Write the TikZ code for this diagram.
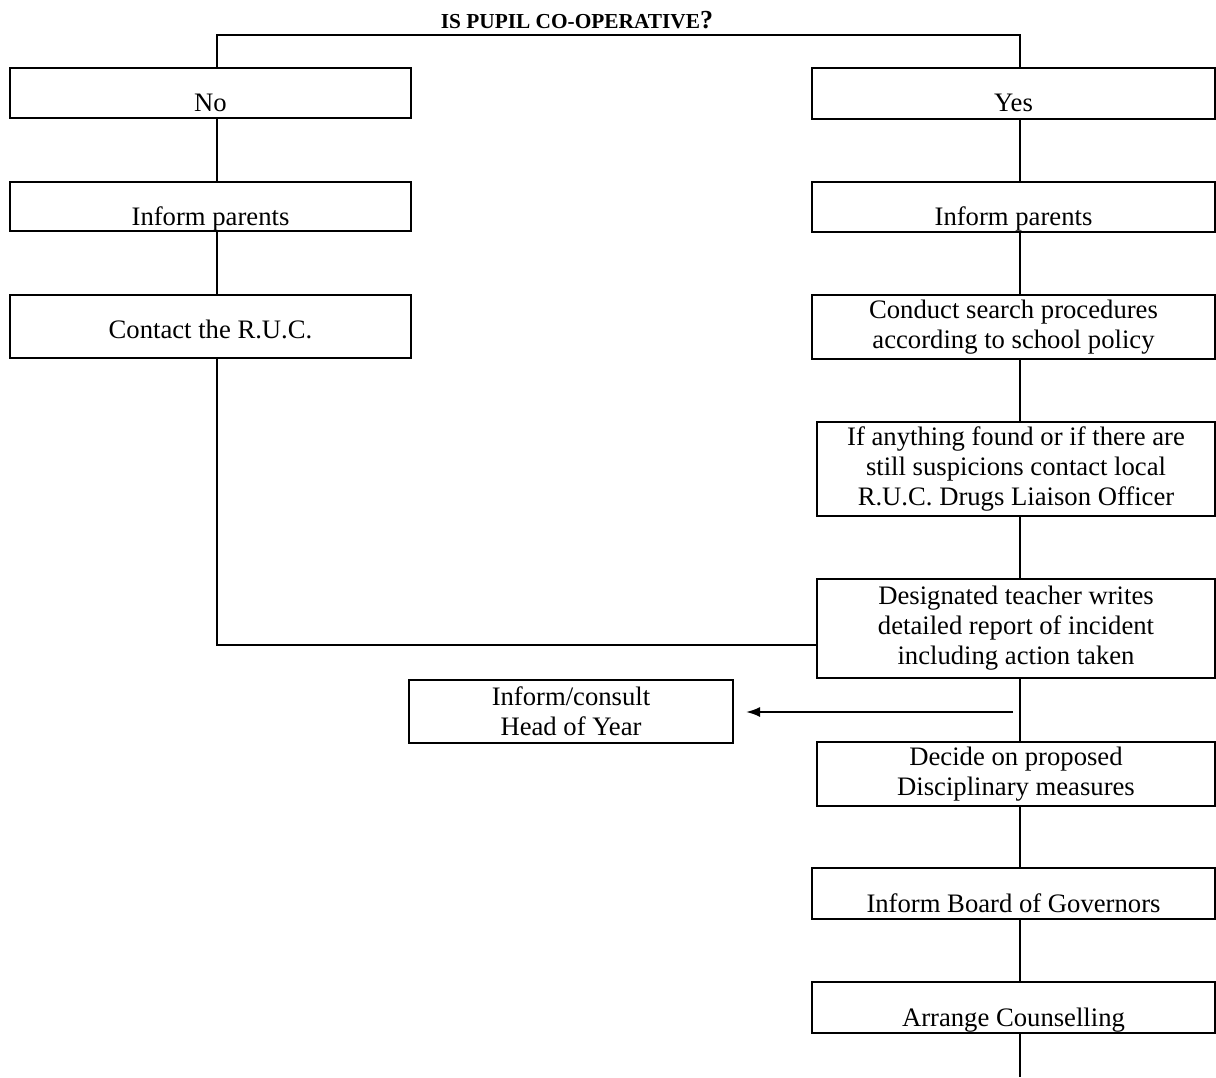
\documentclass[tikz,border=0pt]{standalone}
\usepackage{fontspec}
\setmainfont{Liberation Serif}
\usetikzlibrary{arrows.meta}

\tikzset{
  box/.style={draw, line width=1.5pt, inner sep=0pt, align=center,
    font=\fontsize{20}{22.5}\selectfont},
  lowtxt/.style={text height=27.75pt, text depth=0pt},
  link/.style={line width=1.5pt},
}

\begin{document}
\begin{tikzpicture}[x=0.75pt,y=0.75pt,yscale=-1,xscale=1]
\useasboundingbox (0,0) rectangle (1216,1077);

% Title
\node (title) [anchor=base] at (577,29) {\bfseries\fontsize{16}{16}\selectfont IS PUPIL CO-OPERATIVE\fontsize{19.5}{19.5}\selectfont ?};

% Left column
\node (no) [box,lowtxt,minimum width=300.75pt,minimum height=37.5pt] at (210.5,93) {No};
\node (inl) [box,lowtxt,minimum width=300.75pt,minimum height=36.75pt] at (210.5,206.5) {Inform parents};
\node (ruc) [box,text height=17.25pt,text depth=0pt,minimum width=300.75pt,minimum height=47.25pt] at (210.5,326.5) {Contact the R.U.C.};

% Right column
\node (yes) [box,lowtxt,minimum width=302.25pt,minimum height=37.9pt] at (1013.5,93.25) {Yes};
\node (inr) [box,lowtxt,minimum width=302.25pt,minimum height=37.5pt] at (1013.5,207) {Inform parents};
\node (search) [box,minimum width=302.25pt,minimum height=48pt] at (1013.5,327) {Conduct search procedures\\according to school policy};
\node (found) [box,minimum width=298.5pt,minimum height=70.5pt] at (1016,469) {If anything found or if there are\\still suspicions contact local\\R.U.C. Drugs Liaison Officer};
\node (report) [box,minimum width=298.5pt,minimum height=74.25pt] at (1016,628.5) {Designated teacher writes\\detailed report of incident\\including action taken};
\node (decide) [box,minimum width=298.5pt,minimum height=48pt] at (1016,774) {Decide on proposed\\Disciplinary measures};
\node (board) [box,lowtxt,minimum width=302.25pt,minimum height=38.25pt] at (1013.5,893.5) {Inform Board of Governors};
\node (counsel) [box,lowtxt,minimum width=302.25pt,minimum height=38.25pt] at (1013.5,1007.5) {Arrange Counselling};

% Side box
\node (hoy) [box,minimum width=243pt,minimum height=47.25pt] at (571,711.5) {Inform/consult\\Head of Year};

% Connectors
\coordinate (lx) at (217,35);
\coordinate (rx) at (1020,35);
\coordinate (bend) at (217,645);
\coordinate (hoyfrom) at (1013,712);
\coordinate (tail) at (1020,1077);

\draw[link] (lx |- no.north) -- (lx) -- (rx) -- (rx |- yes.north);
\draw[link] (lx |- no.south) -- (lx |- inl.north);
\draw[link] (lx |- inl.south) -- (lx |- ruc.north);
\draw[link] (lx |- ruc.south) -- (bend) -- (bend -| report.west);

\draw[link] (rx |- yes.south) -- (rx |- inr.north);
\draw[link] (rx |- inr.south) -- (rx |- search.north);
\draw[link] (rx |- search.south) -- (rx |- found.north);
\draw[link] (rx |- found.south) -- (rx |- report.north);
\draw[link] (rx |- report.south) -- (rx |- decide.north);
\draw[link] (rx |- decide.south) -- (rx |- board.north);
\draw[link] (rx |- board.south) -- (rx |- counsel.north);
\draw[link] (rx |- counsel.south) -- (tail);

\draw[link,-{Latex[length=10.5pt,width=7.5pt]},shorten >=9pt] (hoyfrom) -- (hoyfrom -| hoy.east);

\end{tikzpicture}
\end{document}
